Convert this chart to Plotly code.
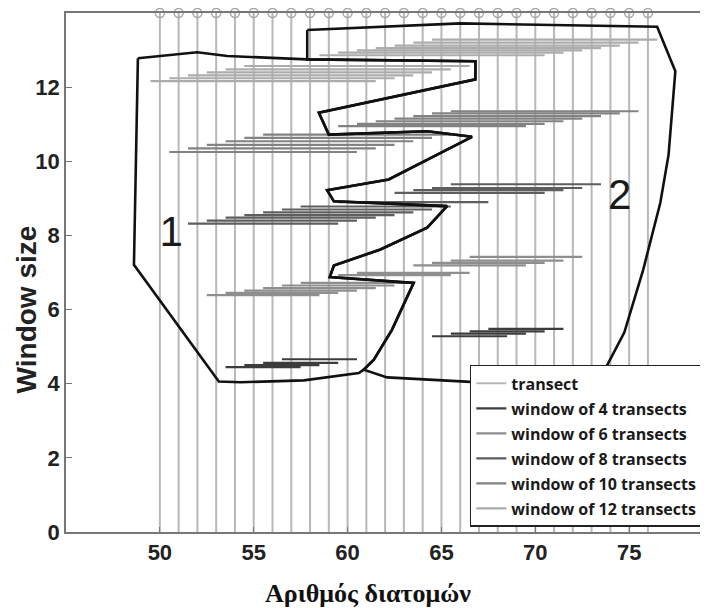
import plotly.graph_objects as go

# ---------------- data ----------------
transects = list(range(50, 77))
transect_top = 14
x_ticks = [50, 55, 60, 65, 70, 75]
y_ticks = [0, 2, 4, 6, 8, 10, 12]

# window start positions (left edge, in transect units) and heights
w4_start = [53.5, 54.5, 55.5, 56.5, 64.5, 65.5, 66.5, 67.5]
w4_y = [4.45, 4.50, 4.56, 4.66, 5.28, 5.35, 5.41, 5.48]

w6_start = [52.5, 53.5, 54.5, 55.5, 56.5, 57.5, 59.5, 60.5, 63.5, 64.5, 65.5, 66.5]
w6_y = [6.39, 6.45, 6.51, 6.58, 6.65, 6.72, 6.93, 6.99, 7.19, 7.26, 7.32, 7.42]

w8_start = [51.5, 52.5, 53.5, 54.5, 55.5, 56.5, 57.5, 59.5, 62.5, 63.5, 64.5, 65.5]
w8_y = [8.32, 8.40, 8.48, 8.55, 8.62, 8.70, 8.78, 8.90, 9.15, 9.22, 9.28, 9.38]

w10_start = [50.5, 51.5, 52.5, 53.5, 54.5, 55.5, 59.5, 60.5, 61.5, 62.5, 63.5, 64.5, 65.5]
w10_y = [10.25, 10.35, 10.44, 10.54, 10.63, 10.72, 10.95, 11.01, 11.08, 11.15, 11.22, 11.29, 11.35]

w12_start = [49.5, 50.5, 51.5, 52.5, 53.5, 54.5, 58.5, 59.5, 60.5, 61.5, 62.5, 63.5, 64.5]
w12_y = [12.16, 12.24, 12.32, 12.40, 12.48, 12.57, 12.86, 12.93, 12.99, 13.05, 13.12, 13.20, 13.28]

# region outlines
region1_x = [48.83, 51.99, 53.59, 57.85, 66.81, 66.81, 58.47, 59.00, 64.24, 66.63, 62.19,
             58.91, 59.27, 65.30, 64.24, 61.75, 59.27, 59.05, 63.52, 62.37, 61.40, 60.86,
             60.60, 59.27, 57.67, 54.30, 53.14, 48.62, 48.83]
region1_y = [12.78, 12.94, 12.84, 12.75, 12.70, 12.21, 11.31, 10.72, 10.81, 10.66, 9.51,
             9.22, 8.92, 8.79, 8.21, 7.62, 7.19, 6.88, 6.72, 5.46, 4.65, 4.38,
             4.29, 4.20, 4.09, 4.04, 4.06, 7.21, 12.78]

region2_x = [57.85, 66.01, 76.49, 77.46, 77.10, 76.66, 75.75, 74.74, 73.90, 73.40, 66.54,
             62.82, 62.11, 60.86, 61.40, 62.37, 63.52, 59.05, 59.27, 61.75, 64.24, 65.30,
             59.27, 58.91, 62.19, 66.63, 64.24, 59.00, 58.47, 66.81, 66.81, 57.85, 57.85]
region2_y = [13.54, 13.72, 13.63, 12.43, 10.18, 8.88, 7.08, 5.38, 4.57, 4.10, 4.05,
             4.14, 4.17, 4.38, 4.65, 5.46, 6.72, 6.88, 7.19, 7.62, 8.21, 8.79,
             8.92, 9.22, 9.51, 10.66, 10.81, 10.72, 11.31, 12.21, 12.70, 12.75, 13.54]

label_text = ["1", "2"]
label_x = [50.6, 74.5]
label_y = [8.0, 9.0]

y_title = "Window size"
y_title_at = 6.0
x_title = "Αριθμός διατομών"

windows = [
    ("window of 4 transects", 4, w4_start, w4_y, "#3c3c3c"),
    ("window of 6 transects", 6, w6_start, w6_y, "#8e8e8e"),
    ("window of 8 transects", 8, w8_start, w8_y, "#5e5e5e"),
    ("window of 10 transects", 10, w10_start, w10_y, "#828282"),
    ("window of 12 transects", 12, w12_start, w12_y, "#acacac"),
]

# ---------------- figure ----------------
fig = go.Figure()

tx, ty = [], []
for t in transects:
    tx += [t, t, None]
    ty += [0, transect_top, None]
fig.add_trace(go.Scatter(x=tx, y=ty, mode="lines", name="transect",
                         line=dict(color="#b8b8b8", width=2),
                         legendgroup="t", hoverinfo="skip"))

for name, size, starts, ys, col in windows:
    wx, wy = [], []
    for s, yv in zip(starts, ys):
        wx += [s, s + size, None]
        wy += [yv, yv, None]
    fig.add_trace(go.Scatter(x=wx, y=wy, mode="lines", name=name,
                             line=dict(color=col, width=2.2),
                             legendgroup=name, hoverinfo="skip"))

fig.add_trace(go.Scatter(x=region1_x, y=region1_y, mode="lines", showlegend=False,
                         line=dict(color="#111111", width=2.6), hoverinfo="skip"))
fig.add_trace(go.Scatter(x=region2_x, y=region2_y, mode="lines", showlegend=False,
                         line=dict(color="#111111", width=2.6), hoverinfo="skip"))

fig.add_trace(go.Scatter(x=transects, y=[transect_top] * len(transects), mode="markers",
                         showlegend=False, cliponaxis=False, hoverinfo="skip",
                         marker=dict(symbol="circle-open", size=9, color="#a8a8a8",
                                     line=dict(width=1.5))))

fig.add_trace(go.Scatter(x=label_x, y=label_y, mode="text", text=label_text,
                         showlegend=False, hoverinfo="skip",
                         textfont=dict(family="Liberation Sans, Arial", size=42, color="#1a1a1a")))

fig.add_annotation(text=y_title, xref="paper", yref="y", x=-0.061, y=y_title_at,
                   xanchor="center", yanchor="middle", textangle=-90, showarrow=False,
                   font=dict(family="Liberation Sans, Arial", size=28, color="#222222",
                             weight="bold"))
fig.add_annotation(text=x_title, xref="paper", yref="paper", x=0.470, y=-0.119,
                   xanchor="center", yanchor="middle", showarrow=False,
                   font=dict(family="Liberation Serif, Times New Roman", size=26,
                             color="#111111", weight="bold"))

# the page body adds an 8 px offset, so the figure is 700x600 with margins reduced
fig.update_layout(
    width=700, height=600,
    margin=dict(l=58, r=0, t=5, b=76),
    paper_bgcolor="white", plot_bgcolor="white",
    showlegend=True,
    legend=dict(x=0.629, y=0.322, xanchor="left", yanchor="top",
                bgcolor="white", bordercolor="#222222", borderwidth=1.5,
                font=dict(family="Open Sans", size=16, color="#1a1a1a", weight="bold"),
                itemwidth=30, tracegroupgap=1.2),
    xaxis=dict(range=[45, 79.2], tickvals=x_ticks, showline=True, linecolor="#777777",
               linewidth=1.5, mirror=True, ticks="inside", ticklen=5, tickcolor="#777777",
               showgrid=False, zeroline=False, automargin=False,
               tickfont=dict(family="Liberation Sans, Arial", size=22, color="#222222", weight="bold")),
    yaxis=dict(range=[0, 14], tickvals=y_ticks, showline=True, linecolor="#777777",
               linewidth=1.5, ticks="inside", ticklen=6, tickcolor="#777777",
               showgrid=False, zeroline=False, automargin=False,
               tickfont=dict(family="Liberation Sans, Arial", size=22, color="#222222", weight="bold")),
)

fig.write_html("out.html")
